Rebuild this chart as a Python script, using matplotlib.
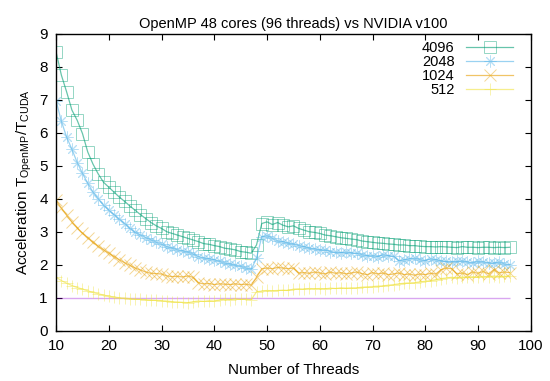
import matplotlib
matplotlib.use("Agg")
import matplotlib.pyplot as plt

plt.rcParams['font.family'] = ['Liberation Sans', 'DejaVu Sans']
plt.rcParams['mathtext.default'] = 'regular'

threads = list(range(10, 97))

acc_4096 = [8.45, 7.75, 7.24, 6.69, 6.38, 5.98, 5.42, 5.05, 4.75, 4.50,
            4.35, 4.20, 4.05, 3.92, 3.78, 3.65, 3.52, 3.40, 3.28, 3.18,
            3.10, 3.00, 2.95, 2.90, 2.85, 2.80, 2.75, 2.70, 2.64, 2.62,
            2.58, 2.55, 2.50, 2.48, 2.45, 2.40, 2.38, 2.35, 2.60, 3.25,
            3.30, 3.22, 3.28, 3.20, 3.15, 3.18, 3.10, 3.05, 3.00, 2.98,
            2.95, 2.90, 2.88, 2.85, 2.82, 2.80, 2.78, 2.76, 2.72, 2.70,
            2.68, 2.66, 2.65, 2.63, 2.62, 2.60, 2.60, 2.58, 2.58, 2.56,
            2.55, 2.55, 2.54, 2.55, 2.54, 2.53, 2.52, 2.55, 2.53, 2.53,
            2.52, 2.53, 2.53, 2.52, 2.53, 2.52, 2.53]

acc_2048 = [6.97, 6.35, 5.87, 5.50, 5.10, 4.77, 4.47, 4.20, 4.00, 3.80,
            3.65, 3.52, 3.38, 3.25, 3.10, 2.98, 2.90, 2.82, 2.75, 2.68,
            2.62, 2.55, 2.50, 2.45, 2.42, 2.38, 2.32, 2.25, 2.20, 2.18,
            2.15, 2.10, 2.05, 2.02, 1.98, 1.95, 1.90, 1.86, 2.20, 2.85,
            2.88, 2.80, 2.72, 2.70, 2.65, 2.62, 2.58, 2.55, 2.50, 2.48,
            2.45, 2.45, 2.40, 2.38, 2.37, 2.38, 2.36, 2.35, 2.30, 2.28,
            2.28, 2.25, 2.30, 2.28, 2.26, 2.12, 2.15, 2.18, 2.20, 2.15,
            2.12, 2.18, 2.15, 2.12, 2.10, 2.08, 2.10, 2.12, 2.08, 2.05,
            2.10, 2.08, 2.06, 2.05, 2.08, 2.02, 2.00]

acc_1024 = [3.95, 3.72, 3.50, 3.30, 3.12, 2.96, 2.82, 2.68, 2.56, 2.45,
            2.35, 2.25, 2.15, 2.06, 1.98, 1.90, 1.84, 1.78, 1.74, 1.73,
            1.72, 1.66, 1.64, 1.65, 1.63, 1.66, 1.62, 1.45, 1.42, 1.43,
            1.40, 1.42, 1.41, 1.40, 1.42, 1.40, 1.41, 1.38, 1.62, 1.88,
            1.90, 1.88, 1.92, 1.90, 1.88, 1.90, 1.75, 1.76, 1.74, 1.78,
            1.75, 1.72, 1.78, 1.74, 1.76, 1.72, 1.75, 1.78, 1.73, 1.70,
            1.76, 1.72, 1.75, 1.70, 1.72, 1.75, 1.70, 1.72, 1.68, 1.72,
            1.70, 1.74, 1.72, 1.85, 1.90, 1.88, 1.72, 1.75, 1.70, 1.78,
            1.74, 1.80, 1.72, 1.85, 1.75, 1.78, 1.76]

acc_512 = [1.62, 1.52, 1.44, 1.37, 1.31, 1.26, 1.21, 1.16, 1.12, 1.08,
           1.05, 1.02, 1.00, 0.99, 0.97, 0.96, 0.95, 0.94, 0.93, 0.92,
           0.91, 0.90, 0.88, 0.87, 0.86, 0.85, 0.88, 0.90, 0.89, 0.91,
           0.90, 0.93, 0.96, 0.94, 0.97, 0.95, 0.96, 0.94, 1.18, 1.20,
           1.22, 1.21, 1.22, 1.23, 1.22, 1.26, 1.27, 1.26, 1.28, 1.27,
           1.28, 1.27, 1.29, 1.28, 1.30, 1.29, 1.30, 1.30, 1.32, 1.33,
           1.34, 1.35, 1.36, 1.38, 1.40, 1.42, 1.44, 1.45, 1.46, 1.48,
           1.50, 1.52, 1.55, 1.58, 1.60, 1.62, 1.60, 1.63, 1.62, 1.64,
           1.62, 1.65, 1.63, 1.66, 1.64, 1.65, 1.66]

reference_level = 1.0

series = [
    ("4096", acc_4096, (0.0, 0.62, 0.45), 's'),
    ("2048", acc_2048, (0.34, 0.71, 0.91), (8, 2, 0)),
    ("1024", acc_1024, (0.90, 0.62, 0.0), 'x'),
    ("512", acc_512, (0.94, 0.89, 0.26), '+'),
]

fig = plt.figure(figsize=(5.5, 3.81), dpi=100)
ax = fig.add_axes([0.102, 0.132, 0.863, 0.779])

ax.hlines(reference_level, threads[0], threads[-1],
          color=(0.58, 0.0, 0.83, 0.35), lw=1)

for label, values, rgb, marker in series:
    ax.plot(threads, values, label=label, color=rgb + (0.6,), lw=0.9,
            marker=marker, markersize=8.5, markeredgewidth=0.7,
            markerfacecolor='none', markeredgecolor=rgb + (0.42,))

ax.set_xlim(10, 100)
ax.set_ylim(0, 9)
ax.set_xticks(range(10, 101, 10))
ax.set_yticks(range(0, 10))
ax.tick_params(direction='in', top=True, right=True, labelsize=11,
               length=4, pad=6)
for s in ax.spines.values():
    s.set_linewidth(1)

ax.set_title("OpenMP 48 cores (96 threads) vs NVIDIA v100", fontsize=10.5,
             pad=4)
ax.set_xlabel("Number of Threads", fontsize=11, labelpad=7)
ax.set_ylabel("Acceleration T$_{OpenMP}$/T$_{CUDA}$", fontsize=11,
              labelpad=4)

ax.legend(loc='upper right', bbox_to_anchor=(0.975, 0.995), frameon=False,
          markerfirst=False, fontsize=10.5, handlelength=3.2,
          labelspacing=0.0, borderaxespad=0.0, handletextpad=0.8)

fig.savefig("out.png", dpi=100)
